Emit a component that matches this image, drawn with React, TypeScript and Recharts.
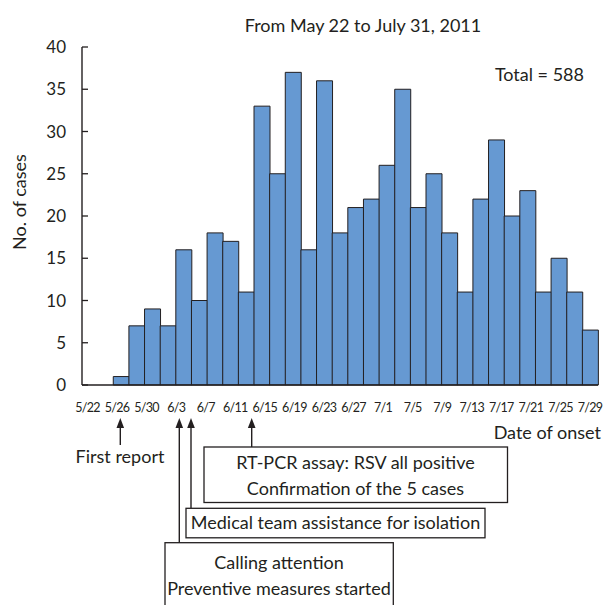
import { BarChart, Bar, XAxis, YAxis } from 'recharts';

// 2-day bins of onset dates (start day of each bin)
const bins = [
  '5/22', '5/24', '5/26', '5/28', '5/30', '6/1', '6/3', '6/5', '6/7', '6/9', '6/11',
  '6/13', '6/15', '6/17', '6/19', '6/21', '6/23', '6/25', '6/27', '6/29', '7/1', '7/3',
  '7/5', '7/7', '7/9', '7/11', '7/13', '7/15', '7/17', '7/19', '7/21', '7/23', '7/25',
];
const cases = [
  0, 0, 1, 7, 9, 7, 16, 10, 18, 17, 11,
  33, 25, 37, 16, 36, 18, 21, 22, 26, 35, 21,
  25, 18, 11, 22, 29, 20, 23, 11, 15, 11, 6.5,
];
const dateTicks = [
  '5/22', '5/26', '5/30', '6/3', '6/7', '6/11', '6/15', '6/19', '6/23',
  '6/27', '7/1', '7/5', '7/9', '7/13', '7/17', '7/21', '7/25', '7/29',
];
const yTicks = [0, 5, 10, 15, 20, 25, 30, 35, 40];

const data = bins.map((bin, i) => ({ bin, cases: cases[i] }));

const FONT = 'Lato, "Noto Sans", sans-serif';
const INK = '#231f20';

function YTick(props: any) {
  const { x, y, payload } = props;
  return (
    <g>
      <line x1={x + 16} x2={x + 22} y1={y} y2={y} stroke={INK} strokeWidth={1.3} />
      <text x={x} y={y} dy="0.36em" textAnchor="end" fontSize={17} fontFamily={FONT} fill={INK}>
        {payload.value}
      </text>
    </g>
  );
}

function Arrow({ x, y1, y2 }: { x: number; y1: number; y2: number }) {
  return (
    <g>
      <line x1={x} x2={x} y1={y1 + 8} y2={y2} stroke={INK} strokeWidth={1.4} />
      <path d={`M${x} ${y1} L${x - 3.8} ${y1 + 10} L${x + 3.8} ${y1 + 10} Z`} fill={INK} />
    </g>
  );
}

function Notes() {
  const txt = { fontFamily: FONT, fontSize: 18, fill: INK } as const;
  return (
    <svg
      width={606}
      height={605}
      style={{ position: 'absolute', left: 0, top: 0, pointerEvents: 'none' }}
    >
      <text x={363} y={26} dy="0.36em" textAnchor="middle" {...txt}>
        From May 22 to July 31, 2011
      </text>
      <text x={584} y={75} dy="0.36em" textAnchor="end" {...txt}>
        Total = 588
      </text>
      <text x={601} y={433} dy="0.36em" textAnchor="end" {...txt}>
        Date of onset
      </text>
      <text
        x={20}
        y={202}
        dy="0.36em"
        textAnchor="middle"
        transform="rotate(-90 20 202)"
        {...txt}
      >
        No. of cases
      </text>

      <Arrow x={120.3} y1={418} y2={445} />
      <text x={120} y={457} dy="0.36em" textAnchor="middle" {...txt}>
        First report
      </text>

      <Arrow x={179.3} y1={418} y2={543} />
      <Arrow x={191} y1={418} y2={508} />
      <Arrow x={251.7} y1={418} y2={447} />

      <rect x={204} y={447} width={303.5} height={55.5} fill="#fff" stroke={INK} strokeWidth={1.3} />
      <text x={355.5} y={463} dy="0.36em" textAnchor="middle" {...txt}>
        RT-PCR assay: RSV all positive
      </text>
      <text x={355.5} y={489} dy="0.36em" textAnchor="middle" {...txt}>
        Confirmation of the 5 cases
      </text>

      <rect x={186} y={508.3} width={299} height={29.5} fill="#fff" stroke={INK} strokeWidth={1.3} />
      <text x={335.5} y={523} dy="0.36em" textAnchor="middle" {...txt}>
        Medical team assistance for isolation
      </text>

      <rect x={165} y={542.7} width={228.3} height={70} fill="#fff" stroke={INK} strokeWidth={1.3} />
      <text x={279} y={563} dy="0.36em" textAnchor="middle" {...txt}>
        Calling attention
      </text>
      <text x={279} y={589} dy="0.36em" textAnchor="middle" {...txt}>
        Preventive measures started
      </text>
    </svg>
  );
}

export default function App() {
  return (
    <div style={{ position: 'absolute', left: 0, top: 0, width: 606, height: 605, background: '#fff' }}>
      <BarChart
        width={606}
        height={605}
        data={data}
        barCategoryGap={0}
        barGap={0}
        margin={{ top: 47, right: 8, bottom: 190, left: 22 }}
      >
        <XAxis xAxisId="bins" dataKey="bin" hide height={0} />
        {/* date labels sit on their own scale; the key is absent from the rows so
            the explicit domain is not stretched by row indexes */}
        <XAxis
          xAxisId="dates"
          type="number"
          dataKey="dateIndex"
          domain={[-0.186, 17.27]}
          allowDataOverflow
          ticks={dateTicks.map((_, i) => i)}
          interval={0}
          tickFormatter={(v: number) => dateTicks[v] ?? ''}
          height={30}
          axisLine={{ stroke: INK, strokeWidth: 1.4 }}
          tickLine={false}
          tickSize={6}
          tickMargin={12}
          tick={{ fontSize: 12.5, fontFamily: FONT, fill: INK, letterSpacing: -0.7 }}
        />
        <YAxis
          domain={[0, 40]}
          ticks={yTicks}
          interval={0}
          width={60}
          axisLine={{ stroke: INK, strokeWidth: 1.4 }}
          tickLine={false}
          tickSize={6}
          tickMargin={10}
          tick={<YTick />}
        />
        <Bar
          xAxisId="bins"
          dataKey="cases"
          fill="#6699d2"
          stroke={INK}
          strokeWidth={1}
          isAnimationActive={false}
        />
      </BarChart>
      <Notes />
    </div>
  );
}
